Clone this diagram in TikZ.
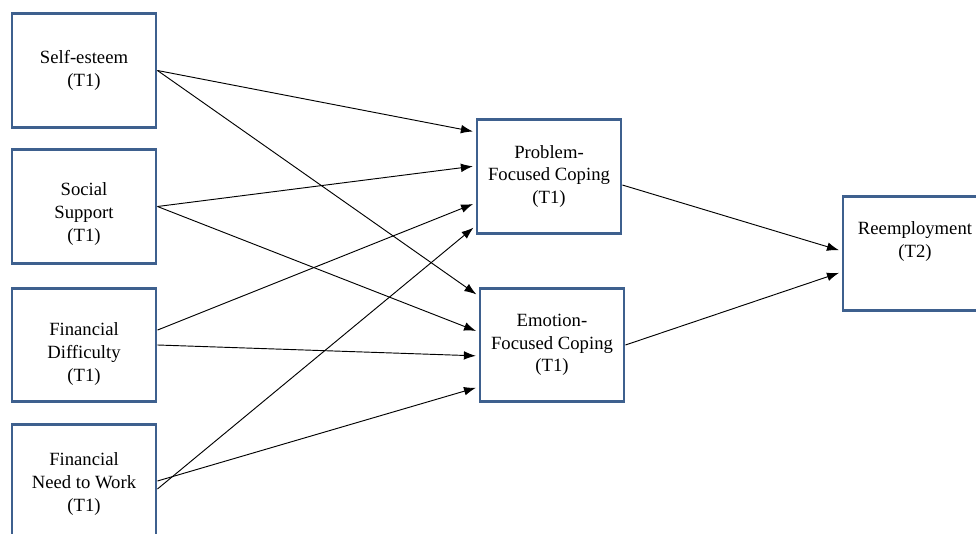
\documentclass[tikz,border=0pt]{standalone}
\usepackage{fontspec}
\setmainfont{Liberation Serif}
\usetikzlibrary{arrows.meta}
\definecolor{boxblue}{RGB}{62,96,142}
\tikzset{
  var/.style={draw=boxblue, line width=2.2pt, minimum width=108pt, minimum height=85pt,
    align=center, font=\fontsize{14}{17}\selectfont, inner sep=2pt},
  path/.style={-{Latex[length=9pt,width=6.5pt]}, line width=0.7pt, shorten >=2pt}
}
\begin{document}
\begin{tikzpicture}[x=0.75pt,y=-0.75pt]
\useasboundingbox (0,0) rectangle (976,534);
% variables en T1
\node[var] (se) at (84,70.5) {Self-esteem\\(T1)};
\node[var] (ss) at (84,206.5) {\rule{0pt}{21pt}Social\\Support\\(T1)};
\node[var] (fd) at (84,345) {\rule{0pt}{23pt}Financial\\Difficulty\\(T1)};
\node[var] (fn) at (84,481) {\rule{0pt}{14pt}Financial\\Need to Work\\(T1)};
% coping
\node[var] (pfc) at (549,176.5) {Problem-\\Focused Coping\\(T1)};
\node[var] (efc) at (552,345) {Emotion-\\Focused Coping\\(T1)};
% T2
\node[var] (re) at (915,253.5) {Reemployment\\(T2)\\[4pt]\mbox{}};
% chemins vers le coping
\draw[path] (se.east) -- ([yshift=33.4pt]pfc.west);
\draw[path] (se.east) -- ([yshift=36.8pt]efc.west);
\draw[path] (ss.east) -- ([yshift=7.9pt]pfc.west);
\draw[path] (ss.east) -- ([yshift=9.8pt]efc.west);
\draw[path] ([yshift=11.2pt]fd.east) -- ([yshift=-19.9pt]pfc.west);
\draw[path] (fd.east) -- ([yshift=-8.2pt]efc.west);
\draw[path] ([yshift=-6pt]fn.east) -- ([yshift=-37.1pt]pfc.west);
\draw[path] (fn.east) -- ([yshift=-31.5pt]efc.west);
% chemins vers le réemploi
\draw[path] ([yshift=-6.4pt]pfc.east) -- ([yshift=1.9pt]re.west);
\draw[path] (efc.east) -- ([yshift=-13.9pt]re.west);
\end{tikzpicture}
\end{document}
